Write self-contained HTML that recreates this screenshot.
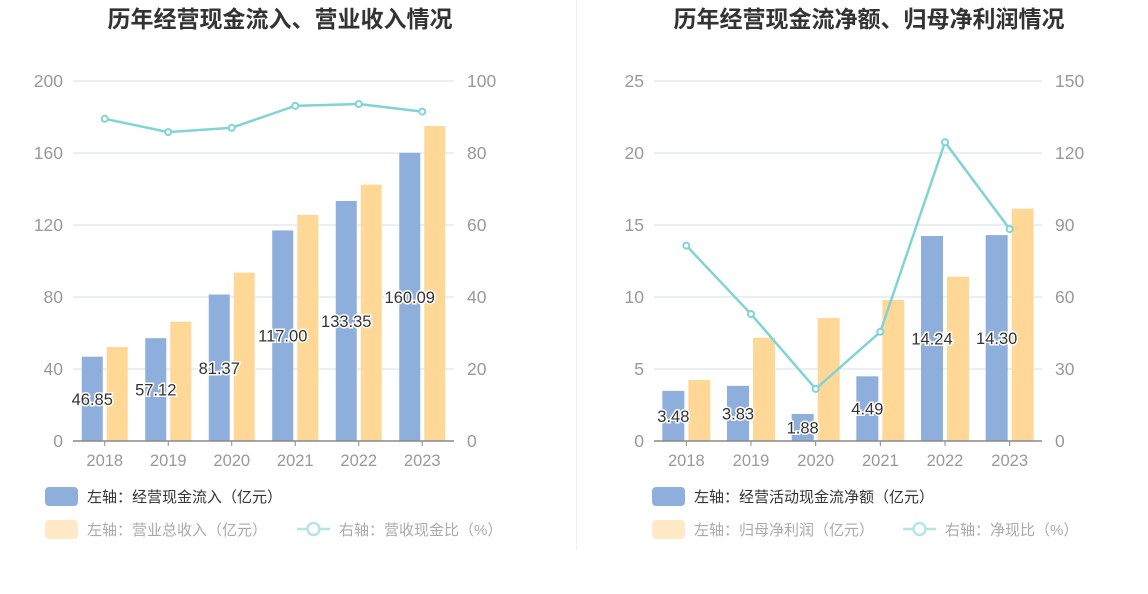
<!DOCTYPE html>
<html><head><meta charset="utf-8"><style>
body{margin:0;background:#fff;width:1148px;height:589px;overflow:hidden;font-family:"Liberation Sans","Noto Sans CJK SC",sans-serif;}
svg text{font-family:"Liberation Sans","Noto Sans CJK SC",sans-serif;}
</style></head><body>
<svg id="c" width="1148" height="589">
<line x1="576.5" y1="0" x2="576.5" y2="550" stroke="#eeeeee"/>
</svg>
<script>
const years=["2018","2019","2020","2021","2022","2023"];
const cashIn=[46.85,57.12,81.37,117.00,133.35,160.09];
const revenue=[52.2,66.3,93.5,125.6,142.4,175.0];
const cashRatio=[89.5,85.8,87.0,93.1,93.6,91.5];
const netCash=[3.48,3.83,1.88,4.49,14.24,14.30];
const netProfit=[4.24,7.18,8.54,9.79,11.41,16.13];
const netRatio=[81.4,52.9,21.7,45.5,124.5,88.3];
const leftTicksA=[0,40,80,120,160,200];
const rightTicksA=[0,20,40,60,80,100];
const leftTicksB=[0,5,10,15,20,25];
const rightTicksB=[0,30,60,90,120,150];

const svg=document.getElementById('c');
const NS='http://www.w3.org/2000/svg';
function mk(tag,attrs,text){const e=document.createElementNS(NS,tag);for(const k in attrs)e.setAttribute(k,attrs[k]);if(text!==undefined)e.textContent=text;svg.appendChild(e);return e;}

function panel(o){
  const y0=441,y1=81,h=y0-y1;
  const yL=v=>y0-v/o.lmax*h, yR=v=>y0-v/o.rmax*h;
  const step=(o.x1-o.x0)/years.length;
  const cx=i=>o.x0+step*(i+0.5);
  let t=mk('text',{x:o.tx,y:27,'text-anchor':'middle','font-size':'23','font-weight':'bold',fill:'#333'},o.title);
  
  o.lt.forEach((v,i)=>{
    const y=yL(v);
    if(i>0){const g=mk('line',{x1:o.x0,x2:o.x1,y1:y,y2:y,stroke:'#e6e9f3','stroke-width':1.5});
      }
    const a=mk('text',{x:o.x0-10,y:y+6,'text-anchor':'end','font-size':'17.5',fill:'#999'},String(v));
    
    const b=mk('text',{x:o.x1+13,y:y+6,'text-anchor':'start','font-size':'17.5',fill:'#999'},String(o.rt[i]));
    
  });
  years.forEach((yr,i)=>{
    const c=cx(i);
    const b1=mk('rect',{x:c-o.bw-2,y:yL(o.s1[i]),width:o.bw,height:y0-yL(o.s1[i]),fill:'#8eaedb'});
    
    const b2=mk('rect',{x:c+2,y:yL(o.s2[i]),width:o.bw,height:y0-yL(o.s2[i]),fill:'#ffd897'});
    
    const tk=mk('line',{x1:c,x2:c,y1:y0,y2:y0+5,stroke:'#888'});
    
    const xl=mk('text',{x:c,y:y0+25,'text-anchor':'middle','font-size':'16.5',fill:'#999'},yr);
    
  });
  const ax=mk('line',{x1:o.x0,x2:o.x1,y1:y0,y2:y0,stroke:'#888','stroke-width':1.5});
  
  years.forEach((yr,i)=>{
    const c=cx(i)-o.bw/2-2, ly=(y0+yL(o.s1[i]))/2+6;
    const l=mk('text',{x:c,y:ly,'text-anchor':'middle','font-size':'16.5',fill:'#333',stroke:'#fff','stroke-width':3,'paint-order':'stroke'},o.s1[i].toFixed(2));
    
  });
  const pts=o.r.map((v,i)=>cx(i)+','+yR(v)).join(' ');
  const pl=mk('polyline',{points:pts,fill:'none',stroke:'#80d4d6','stroke-width':2.5});
  
  o.r.forEach((v,i)=>{
    const d=mk('circle',{cx:cx(i),cy:yR(v),r:3,fill:'#fff',stroke:'#80d4d6','stroke-width':2});
    
  });
  const lx=o.lx;
  const s1=mk('rect',{x:lx,y:487,width:33,height:19,rx:4,fill:'#8eaedb'});
  
  const t1=mk('text',{x:lx+42,y:502,'font-size':'15',fill:'#333'},o.lg1);
  
  const s2=mk('rect',{x:lx,y:520,width:33,height:19,rx:4,fill:'#ffe9c6'});
  
  const t2=mk('text',{x:lx+42,y:535,'font-size':'15',fill:'#aaa'},o.lg2);
  
  const ll=mk('line',{x1:o.l3x,x2:o.l3x+33,y1:529,y2:529,stroke:'#b5e6e6','stroke-width':2.5});
  
  const lc=mk('circle',{cx:o.l3x+16.5,cy:529,r:6,fill:'#fff',stroke:'#b5e6e6','stroke-width':2.5});
  
  const t3=mk('text',{x:o.l3x+42,y:535,'font-size':'15',fill:'#aaa'},o.lg3);
  
}
panel({p:'left',title:'历年经营现金流入、营业收入情况',tx:280,x0:73,x1:454,lmax:200,rmax:100,lt:leftTicksA,rt:rightTicksA,
  s1:cashIn,s2:revenue,r:cashRatio,bw:21,n1:'cash-inflow',n2:'revenue',lx:45,l3x:297,
  lg1:'左轴：经营现金流入（亿元）',lg2:'左轴：营业总收入（亿元）',lg3:'右轴：营收现金比（%）'});
panel({p:'right',title:'历年经营现金流净额、归母净利润情况',tx:869,x0:654,x1:1042,lmax:25,rmax:150,lt:leftTicksB,rt:rightTicksB,
  s1:netCash,s2:netProfit,r:netRatio,bw:22,n1:'net-cash-flow',n2:'net-profit',lx:652,l3x:903,
  lg1:'左轴：经营活动现金流净额（亿元）',lg2:'左轴：归母净利润（亿元）',lg3:'右轴：净现比（%）'});
</script>
</body></html>
